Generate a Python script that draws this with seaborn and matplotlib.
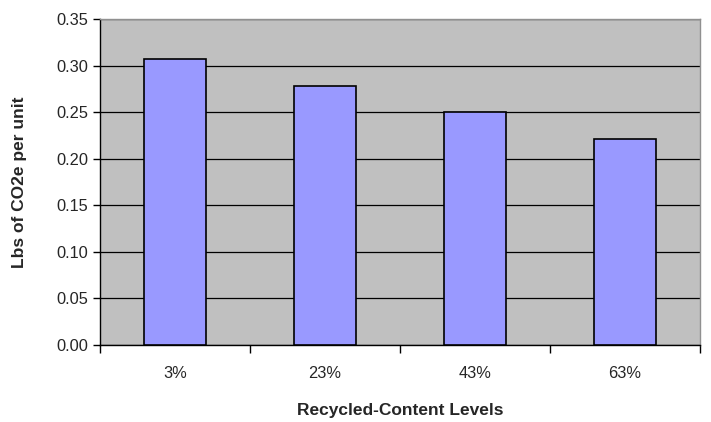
import numpy as np
import pandas as pd
import matplotlib
matplotlib.use("Agg")
import matplotlib.pyplot as plt
import seaborn as sns

# Values
levels = ["3%", "23%", "43%", "63%"]
lbs_co2e = [0.307, 0.278, 0.250, 0.221]

df = pd.DataFrame({"Level": levels, "CO2e": lbs_co2e})

sns.set_style("white")
plt.rcParams["font.family"] = ["Liberation Sans", "DejaVu Sans"]

fig = plt.figure(figsize=(7.11, 4.22), dpi=100)
ax = fig.add_axes([0.1406, 0.1825, 0.844, 0.7725])
ax.set_facecolor("#C0C0C0")

sns.barplot(data=df, x="Level", y="CO2e", color="#9999FF", saturation=1,
            width=0.41, edgecolor="black", linewidth=1.2, ax=ax, zorder=3)

ax.set_ylim(0, 0.35)
ax.set_xlim(-0.5, 3.5)
ax.set_yticks(np.arange(0, 0.351, 0.05))
ax.set_yticklabels([f"{v:.2f}" for v in np.arange(0, 0.351, 0.05)], fontsize=11.8)
ax.yaxis.grid(True, color="black", linewidth=0.9, zorder=0)
ax.set_axisbelow(True)

# ticks between categories, labels centered
ax.set_xticks(np.arange(-0.5, 4, 1), minor=True)
ax.tick_params(axis="x", which="major", length=0, pad=15, labelsize=11.8)
ax.tick_params(axis="x", which="minor", length=6, width=1, direction="out", color="black", bottom=True)
ax.tick_params(axis="y", length=5, width=1, direction="out", color="black", left=True)

for side in ["left", "bottom"]:
    ax.spines[side].set_color("black")
    ax.spines[side].set_linewidth(1)
for side in ["top", "right"]:
    ax.spines[side].set_color("#909090")
    ax.spines[side].set_linewidth(1)

ax.set_xlabel("Recycled-Content Levels", fontsize=12.5, fontweight="bold", labelpad=16)
ax.set_ylabel("Lbs of CO2e per unit", fontsize=12.5, fontweight="bold", labelpad=21)

fig.savefig("out.png", dpi=100)
